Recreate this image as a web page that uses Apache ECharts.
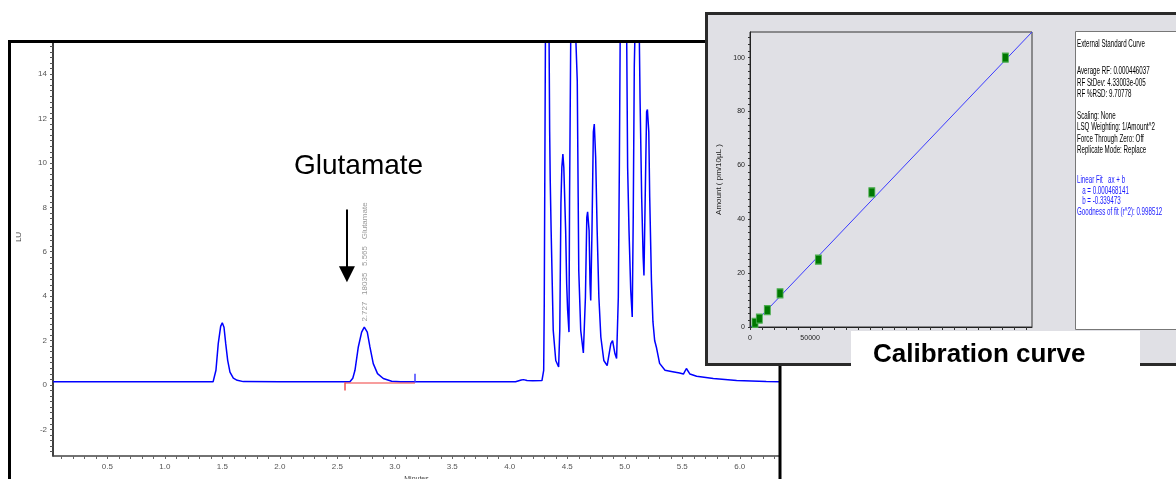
<!DOCTYPE html>
<html><head><meta charset="utf-8">
<script src="https://cdn.jsdelivr.net/npm/echarts@6/dist/echarts.min.js"></script>
<style>html,body{margin:0;padding:0;background:#fff}#c{width:1176px;height:479px}</style>
</head><body><div id="c"></div>
<script>
// ---- Chromatogram (minutes vs LU) ----
const chromTime = [0.03,0.43,0.437,0.445,1.42,1.445,1.465,1.486,1.50,1.515,1.53,1.547,1.567,1.596,1.63,1.683,2.0,
  2.61,2.635,2.654,2.683,2.712,2.735,2.761,2.784,2.813,2.85,2.9,2.973,3.05,4.05,4.10,4.12,4.15,4.2,4.28,4.295,
  4.30,4.31,4.325,4.342,4.347,4.352,4.36,4.378,4.40,4.425,4.435,4.445,4.453,4.462,4.47,4.486,4.495,4.503,4.515,
  4.52,4.53,4.55,4.575,4.587,4.595,4.60,4.617,4.64,4.658,4.67,4.677,4.69,4.698,4.704,4.715,4.727,4.735,4.747,
  4.76,4.775,4.792,4.818,4.847,4.879,4.894,4.915,4.929,4.944,4.953,4.96,4.99,5.017,5.025,5.037,5.052,5.065,
  5.074,5.083,5.088,5.11,5.127,5.133,5.147,5.16,5.167,5.182,5.19,5.197,5.209,5.217,5.232,5.245,5.26,5.275,
  5.303,5.35,5.405,5.477,5.51,5.536,5.567,5.625,5.77,5.973,6.23,6.35];
const chromLU = [0.14,0.14,0.2,0.14,0.14,0.66,1.86,2.64,2.8,2.6,1.86,1.11,0.58,0.31,0.21,0.15,0.14,
  0.14,0.3,0.66,1.71,2.38,2.6,2.38,1.71,0.96,0.51,0.29,0.17,0.14,0.14,0.22,0.24,0.2,0.19,0.2,0.66,
  3.7,15.5,30,15.5,11.4,9.2,6.9,2.46,1.1,0.81,2.46,8.2,9.8,10.4,9.8,6.95,4.56,3.4,2.38,
  8.45,15.5,28,15.5,13.7,8.45,5.15,2.46,1.44,3.95,7.55,7.8,6.95,4.56,3.8,6.95,11.4,11.75,10.25,
  6.95,3.95,2.16,1.1,0.87,1.86,2.0,1.4,1.19,3.95,9.8,15.5,32,15.5,9.8,6.95,4.26,3.06,
  7.7,14.4,15.6,22,15.5,12.9,8.45,5.75,4.93,9.8,12.3,12.4,11.4,8.45,4.7,2.85,2.0,1.7,
  0.97,0.66,0.61,0.54,0.49,0.74,0.49,0.39,0.29,0.2,0.15,0.14];
const xTickLabels = [0.5,1.0,1.5,2.0,2.5,3.0,3.5,4.0,4.5,5.0,5.5,6.0];
const yTickLabels = [-2,0,2,4,6,8,10,12,14];
const peakAnnotation = '2.727   18035   5.565   Glutamate';
const peakName = 'Glutamate';

// ---- Calibration curve (area vs amount) ----
const calibArea = [4170,7750,14400,25000,56900,101400,212500];
const calibAmount = [1.5625,3.125,6.25,12.5,25,50,100];
const fitArea = [725,234700];
const fitAmount = [0,109.5];
const calXLabels = [0,50000,100000,150000,200000];
const calYLabels = [0,20,40,60,80,100];
const calTitle = 'Calibration curve';
const infoBlack = [
  ['External Standard Curve',44],
  ['Average RF: 0.000446037',71.7],
  ['RF StDev: 4.33003e-005',83.3],
  ['RF %RSD: 9.70778',94],
  ['Scaling: None',116.7],
  ['LSQ Weighting: 1/Amount^2',127.7],
  ['Force Through Zero: Off',139],
  ['Replicate Mode: Replace',150]
];
const infoBlue = [
  ['Linear Fit   ax + b',180],
  ['   a = 0.000468141',191],
  ['   b = -0.339473',201.7],
  ['Goodness of fit (r^2): 0.998512',212.7]
];

// tick positions
const xMinor = []; for (let i = 1; i <= 63; i++) xMinor.push(+(i * 0.1).toFixed(2));
const yMinor = []; for (let v = -3; v <= 15.25; v += 0.25) yMinor.push(+v.toFixed(2));
const cxMinor = []; for (let v = 0; v <= 230000; v += 10000) cxMinor.push(v);
const cyMinor = []; for (let v = 0; v <= 107.5; v += 2.5) cyMinor.push(v);

const FONT = '"Liberation Sans", Arial, sans-serif';
const chart = echarts.init(document.getElementById('c'), null, {renderer: 'canvas'});

const graphics = [
  // main frame
  {type:'rect', z:3, shape:{x:9.5, y:41.5, width:770.5, height:470}, style:{fill:null, stroke:'#000', lineWidth:3}},
  {type:'text', z:3, x:19, y:237, rotation:Math.PI/2, style:{text:'LU', font:'8px '+FONT, fill:'#444', align:'center', verticalAlign:'middle'}},
  {type:'text', z:3, x:294, y:166, style:{text:peakName, font:'28px '+FONT, fill:'#000', verticalAlign:'middle'}},
  {type:'text', z:3, x:365, y:262, rotation:Math.PI/2, style:{text:peakAnnotation, font:'8px '+FONT, fill:'#999', align:'center', verticalAlign:'middle'}},
  // inset panel
  {type:'rect', z:10, shape:{x:706.5, y:13.5, width:480, height:351}, style:{fill:'#e0e0e5', stroke:'#2a2a2a', lineWidth:3}},
  {type:'rect', z:14, shape:{x:1075.5, y:31.5, width:120, height:298}, style:{fill:'#fff', stroke:'#777', lineWidth:1}},
  {type:'rect', z:20, shape:{x:851, y:331, width:289, height:45}, style:{fill:'#fff'}},
  {type:'text', z:21, x:873, y:355, style:{text:calTitle, font:'bold 26px '+FONT, fill:'#000', verticalAlign:'middle'}}
];
infoBlack.forEach(([t,y]) => graphics.push({type:'text', z:15, x:1077, y:y, scaleX:0.62, style:{text:t, font:'10px '+FONT, fill:'#000', verticalAlign:'middle'}}));
infoBlue.forEach(([t,y]) => graphics.push({type:'text', z:15, x:1077, y:y, scaleX:0.62, style:{text:t, font:'10px '+FONT, fill:'#1a1aff', verticalAlign:'middle'}}));

const option = {
  animation: false,
  backgroundColor: '#fff',
  textStyle: {fontFamily: FONT},
  grid: [
    {left:53, top:43, width:727, bottom:23, show:false, containLabel:false, outerBoundsMode:'none'},
    {left:750, top:32, width:282, height:295, show:true, backgroundColor:'#e0e0e5', borderColor:'#333', borderWidth:1, z:11, containLabel:false, outerBoundsMode:'none'}
  ],
  xAxis: [
    {type:'value', gridIndex:0, min:0.028, max:6.35, z:1,
     name:'Minutes', nameLocation:'middle', nameGap:19, nameTextStyle:{fontSize:7, color:'#444'},
     axisLine:{show:true, onZero:false, lineStyle:{color:'#444', width:1.5}},
     axisTick:{show:true, length:3, customValues:xMinor, lineStyle:{color:'#666'}},
     axisLabel:{fontSize:8, color:'#555', margin:7, customValues:xTickLabels, formatter:v=>v.toFixed(1)},
     splitLine:{show:false}},
    {type:'value', gridIndex:1, min:0, max:234700, z:12,
     axisLine:{show:true, onZero:false, lineStyle:{color:'#222', width:1}},
     axisTick:{show:true, length:3, customValues:cxMinor, lineStyle:{color:'#333'}},
     axisLabel:{fontSize:7, color:'#222', margin:8, customValues:calXLabels, formatter:v=>String(v)},
     splitLine:{show:false}}
  ],
  yAxis: [
    {type:'value', gridIndex:0, min:-3.2, max:15.4, z:1,
     axisLine:{show:true, onZero:false, lineStyle:{color:'#000', width:1.5}},
     axisTick:{show:true, length:3, customValues:yMinor, lineStyle:{color:'#555'}},
     axisLabel:{fontSize:8, color:'#555', margin:6, customValues:yTickLabels},
     splitLine:{show:false}},
    {type:'value', gridIndex:1, min:0, max:109.5, z:12,
     name:'Amount ( pm/10µL )', nameLocation:'middle', nameGap:27, nameTextStyle:{fontSize:8, color:'#222'},
     axisLine:{show:true, onZero:false, lineStyle:{color:'#222', width:1}},
     axisTick:{show:true, length:2, customValues:cyMinor, lineStyle:{color:'#333'}},
     axisLabel:{fontSize:7, color:'#222', margin:5, customValues:calYLabels},
     splitLine:{show:false}}
  ],
  series: [
    {type:'line', xAxisIndex:0, yAxisIndex:0, z:2, clip:true, showSymbol:false, symbol:'none',
     lineStyle:{color:'#0000ff', width:1.5},
     data: chromTime.map((t,i)=>[t, chromLU[i]]),
     markLine:{silent:true, symbol:['none','none'], label:{show:false}, animation:false,
       data:[
         [{coord:[2.567,0.1], lineStyle:{color:'rgba(240,70,70,0.7)', width:1.5, type:'solid'}}, {coord:[3.176,0.1]}],
         [{coord:[2.567,0.12], lineStyle:{color:'#f05050', width:1.5, type:'solid'}}, {coord:[2.567,-0.25]}],
         [{coord:[3.176,0.12], lineStyle:{color:'#4040ff', width:1.5, type:'solid'}}, {coord:[3.176,0.5]}],
         [{coord:[2.584,7.9], symbol:'none', lineStyle:{color:'#000', width:2, type:'solid'}},
          {coord:[2.584,4.98], symbol:'triangle', symbolSize:[16,16]}]
       ]}
    },
    {type:'line', xAxisIndex:1, yAxisIndex:1, z:13, showSymbol:false, symbol:'none',
     lineStyle:{color:'#3a3aff', width:1},
     data: fitArea.map((a,i)=>[a, fitAmount[i]])},
    {type:'scatter', xAxisIndex:1, yAxisIndex:1, z:14, symbol:'rect', symbolSize:[6,9],
     itemStyle:{color:'#007800', borderColor:'#4caf50', borderWidth:1, opacity:1},
     data: calibArea.map((a,i)=>[a, calibAmount[i]])}
  ],
  graphic: {elements: graphics}
};
chart.setOption(option);
</script>
</body></html>
